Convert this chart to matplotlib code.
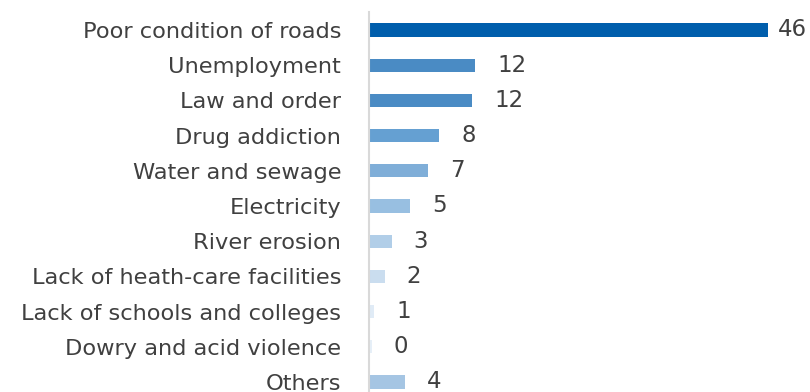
import matplotlib.pyplot as plt

# Share of respondents naming each problem (%)
problems = [
    'Poor condition of roads', 'Unemployment', 'Law and order', 'Drug addiction',
    'Water and sewage', 'Electricity', 'River erosion', 'Lack of heath-care facilities',
    'Lack of schools and colleges', 'Dowry and acid violence', 'Others',
]
shares = [46, 12.2, 11.9, 8.1, 6.8, 4.7, 2.6, 1.8, 0.6, 0.3, 4.1]
bar_colors = ['#005EAC', '#4A8BC4', '#4A8BC4', '#65A0D2', '#7FAED8', '#98BFE1',
              '#B1CEE8', '#CADDEF', '#E0EBF6', '#E6EFF8', '#A5C5E3']

plt.rcParams['font.family'] = ['DejaVu Sans']

fig = plt.figure(figsize=(8.1, 3.92), dpi=100)
ax = fig.add_axes([369 / 810, -7.6 / 392, 399 / 810, 387.2 / 392])

ypos = range(len(problems))
bars = ax.barh(ypos, shares, height=0.37, color=bar_colors)
labels = ax.bar_label(bars, fmt='%.0f', padding=16, fontsize=16.5, color='#404040')
# the longest bar runs close to the edge, so its label sits tighter
labels[0].xyann = (7, labels[0].xyann[1])

ax.set_xlim(0, 46)
ax.set_ylim(10.5, -0.5)
ax.set_yticks(list(ypos))
ax.set_yticklabels(problems, fontsize=16.2, color='#404040')
ax.tick_params(axis='y', length=0, pad=20)
ax.set_xticks([])

for side in ['top', 'right', 'bottom']:
    ax.spines[side].set_visible(False)
ax.spines['left'].set_color('#D9D9D9')
ax.spines['left'].set_linewidth(1.5)

fig.savefig('out.png', dpi=100)
